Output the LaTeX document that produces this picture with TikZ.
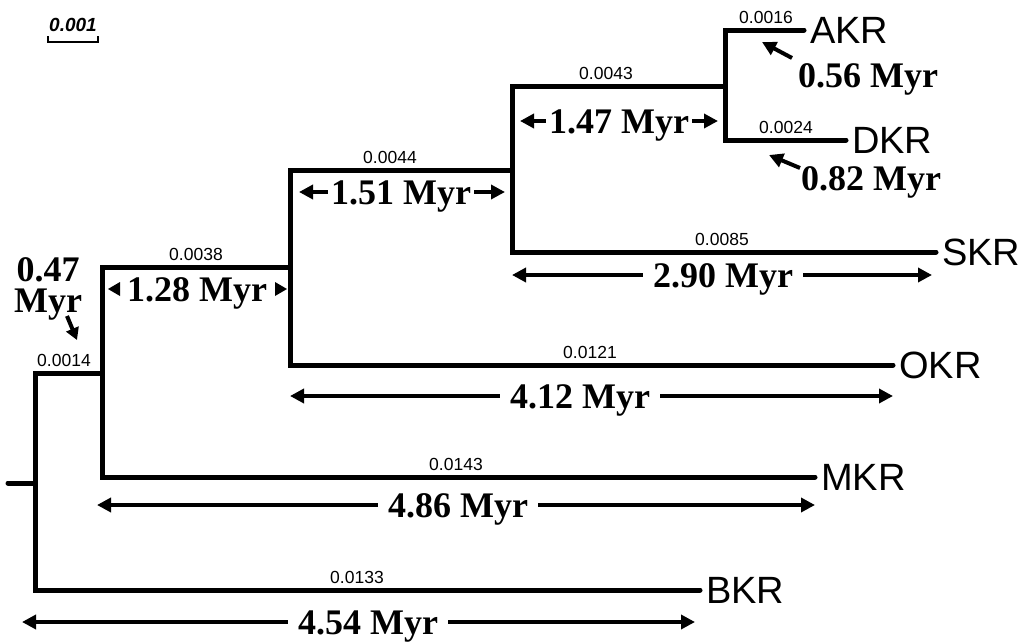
\documentclass[tikz,border=0pt]{standalone}
\usepackage{fontspec}
\setmainfont{Liberation Serif}
\newfontfamily\arialf{Liberation Sans}
\usetikzlibrary{arrows.meta}
\begin{document}
\begin{tikzpicture}[x=1pt,y=-1pt,
  br/.style={line width=5pt, line join=miter, line cap=round},
  taxon/.style={anchor=west, inner sep=6pt, font=\fontsize{38}{40}\arialf},
  blen/.style={anchor=south, inner sep=2pt, font=\fontsize{17.5}{18}\arialf},
  myr/.style={anchor=base, inner sep=0pt, font=\fontsize{36}{36}\bfseries},
  myrarr/.style={line width=4pt, -{Triangle[length=14pt,width=14pt]}}
]
\useasboundingbox (0,0) rectangle (1029,643);

% scale bar
\node[font=\fontsize{19}{20}\arialf\bfseries\itshape, inner sep=0pt] (scl) at (73,25) {0.001};
\coordinate (sbl) at (48,36);
\coordinate (sbr) at (98,36);
\draw[line width=2pt] (sbl) -- ++(0,6) -- ++(50,0) -- (sbr);

% taxa
\node[taxon] (AKR) at (804,30) {AKR};
\node[taxon] (DKR) at (846,140) {DKR};
\node[taxon] (SKR) at (936,252) {SKR};
\node[taxon] (OKR) at (893,365) {OKR};
\node[taxon] (MKR) at (815,477) {MKR};
\node[taxon] (BKR) at (700,590) {BKR};

% internal coordinates
\coordinate (root) at (8,483);
\coordinate (n1) at (35,483);
\coordinate (n1t) at (35,373);
\coordinate (n2) at (102,373);
\coordinate (n2t) at (102,267);
\coordinate (n3) at (290,267);
\coordinate (n3t) at (290,170);
\coordinate (n4) at (512,170);
\coordinate (n4t) at (512,86);
\coordinate (n5) at (725,86);
\coordinate (n5t) at (725,30);

% tree
\draw[br] (root) -- (n1);
\draw[br] (BKR.west) -| (n1t) -- (n2);
\draw[br] (MKR.west) -| (n2t) -- (n3);
\draw[br] (OKR.west) -| (n3t) -- (n4);
\draw[br] (SKR.west) -| (n4t) -- (n5);
\draw[br] (DKR.west) -| (n5t) -- (AKR.west);

% branch lengths
\node[blen] (b1) at (766,26) {0.0016};
\node[blen] (b2) at (786,136) {0.0024};
\node[blen] (b3) at (606,82) {0.0043};
\node[blen] (b4) at (390,166) {0.0044};
\node[blen] (b5) at (196,263) {0.0038};
\node[blen] (b6) at (64,369) {0.0014};
\node[blen] (b7) at (722,248) {0.0085};
\node[blen] (b8) at (590,361) {0.0121};
\node[blen] (b9) at (456,473) {0.0143};
\node[blen] (b10) at (357,586) {0.0133};

% Myr labels with arrows
% 0.56
\node[myr] (m056) at (868,87) {0.56 Myr};
\coordinate (m056s) at (792,58);
\coordinate (m056e) at (762,42);
\draw[myrarr] (m056s) -- (m056e);
% 0.82
\node[myr] (m082) at (871,190) {0.82 Myr};
\coordinate (m082s) at (800,168);
\coordinate (m082e) at (769,155);
\draw[myrarr] (m082s) -- (m082e);
% 0.47
\node[myr] (m047a) at (48,281) {0.47};
\node[myr] (m047b) at (48,312) {Myr};
\coordinate (m047s) at (67,316);
\coordinate (m047e) at (77,340);
\draw[myrarr, -{Triangle[length=12pt,width=13pt]}] (m047s) -- (m047e);

% 1.47
\node[myr] (m147) at (619,133) {1.47 Myr};
\coordinate (m147l) at (520,121);
\coordinate (m147r) at (718,121);
\draw[myrarr] (m147.west |- m147l) ++(-3,0) -- (m147l);
\draw[myrarr] (m147.east |- m147r) ++(3,0) -- (m147r);
% 1.51
\node[myr] (m151) at (401,204) {1.51 Myr};
\coordinate (m151l) at (299,192);
\coordinate (m151r) at (505,192);
\draw[myrarr] (m151.west |- m151l) ++(-3,0) -- (m151l);
\draw[myrarr] (m151.east |- m151r) ++(3,0) -- (m151r);
% 1.28
\node[myr] (m128) at (197,301) {1.28 Myr};
\coordinate (m128l) at (108,289);
\coordinate (m128r) at (287,289);
\fill (m128l) -- ++(12,-7) -- ++(0,14) -- cycle;
\fill (m128r) -- ++(-12,-7) -- ++(0,14) -- cycle;
% 2.90
\node[myr] (m290) at (723,287) {2.90 Myr};
\coordinate (m290l) at (512,275);
\coordinate (m290r) at (932,275);
\draw[myrarr] (m290.west |- m290l) ++(-10,0) -- (m290l);
\draw[myrarr] (m290.east |- m290r) ++(10,0) -- (m290r);
% 4.12
\node[myr] (m412) at (580,408) {4.12 Myr};
\coordinate (m412l) at (290,396);
\coordinate (m412r) at (893,396);
\draw[myrarr] (m412.west |- m412l) ++(-10,0) -- (m412l);
\draw[myrarr] (m412.east |- m412r) ++(10,0) -- (m412r);
% 4.86
\node[myr] (m486) at (458,517) {4.86 Myr};
\coordinate (m486l) at (97,505);
\coordinate (m486r) at (815,505);
\draw[myrarr] (m486.west |- m486l) ++(-10,0) -- (m486l);
\draw[myrarr] (m486.east |- m486r) ++(10,0) -- (m486r);
% 4.54
\node[myr] (m454) at (368,634) {4.54 Myr};
\coordinate (m454l) at (22,622);
\coordinate (m454r) at (695,622);
\draw[myrarr] (m454.west |- m454l) ++(-10,0) -- (m454l);
\draw[myrarr] (m454.east |- m454r) ++(10,0) -- (m454r);
\end{tikzpicture}
\end{document}
